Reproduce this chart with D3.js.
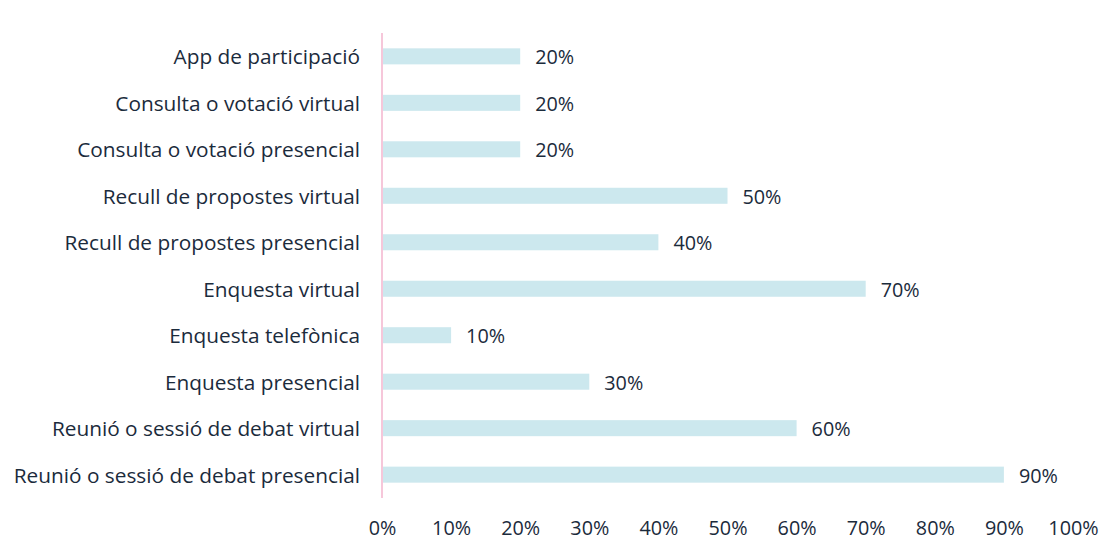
<!DOCTYPE html>
<html><head><meta charset="utf-8">
<script src="https://cdn.jsdelivr.net/npm/d3@7"></script>
<style>body{margin:0;background:#fff;}svg{display:block;}</style>
</head><body>
<svg id="c" width="1105" height="541"></svg>
<script>
const categories = ["App de participació","Consulta o votació virtual","Consulta o votació presencial","Recull de propostes virtual","Recull de propostes presencial","Enquesta virtual","Enquesta telefònica","Enquesta presencial","Reunió o sessió de debat virtual","Reunió o sessió de debat presencial"];
const values = [20,20,20,50,40,70,10,30,60,90];
const ticks = [0,10,20,30,40,50,60,70,80,90,100];

const font = "'Open Sans', sans-serif";
const fsCat = 20.8;
const fs = 19.8;
const textColor = "#1b2b3c";
const svg = d3.select("#c");
const x = d3.scaleLinear().domain([0,100]).range([382,1073]);
const y = d3.scaleBand().domain(categories).range([33,498]).paddingInner(0.655).paddingOuter(0.33);

svg.selectAll("rect.bar").data(categories).join("rect").attr("class","bar")
  .attr("x", x(0)).attr("y", d=>y(d)).attr("height", y.bandwidth())
  .attr("width", (d,i)=>x(values[i])-x(0)).attr("fill","#cce8ee");

svg.append("line").attr("x1",x(0)).attr("x2",x(0)).attr("y1",33).attr("y2",498)
  .attr("stroke","#f6c7da").attr("stroke-width",2);

svg.selectAll("text.cat").data(categories).join("text").attr("class","cat")
  .attr("x",360).attr("y",d=>y(d)+y.bandwidth()/2+8)
  .attr("text-anchor","end").attr("font-family",font).attr("font-size",fsCat).attr("fill",textColor)
  .text(d=>d);

svg.selectAll("text.val").data(categories).join("text").attr("class","val")
  .attr("x",(d,i)=>x(values[i])+15).attr("y",d=>y(d)+y.bandwidth()/2+8)
  .attr("font-family",font).attr("font-size",fs).attr("fill",textColor)
  .text((d,i)=>values[i]+"%");

const xAxis = d3.axisBottom(x).tickValues(ticks).tickFormat(d=>d+"%").tickSize(0).tickPadding(0);
const ga = svg.append("g").attr("transform","translate(0,535)").call(xAxis);
ga.select(".domain").remove();
ga.selectAll("text").attr("font-family",font).attr("font-size",fs).attr("fill",textColor).attr("dy",null).attr("y",0);
</script>
</body></html>
